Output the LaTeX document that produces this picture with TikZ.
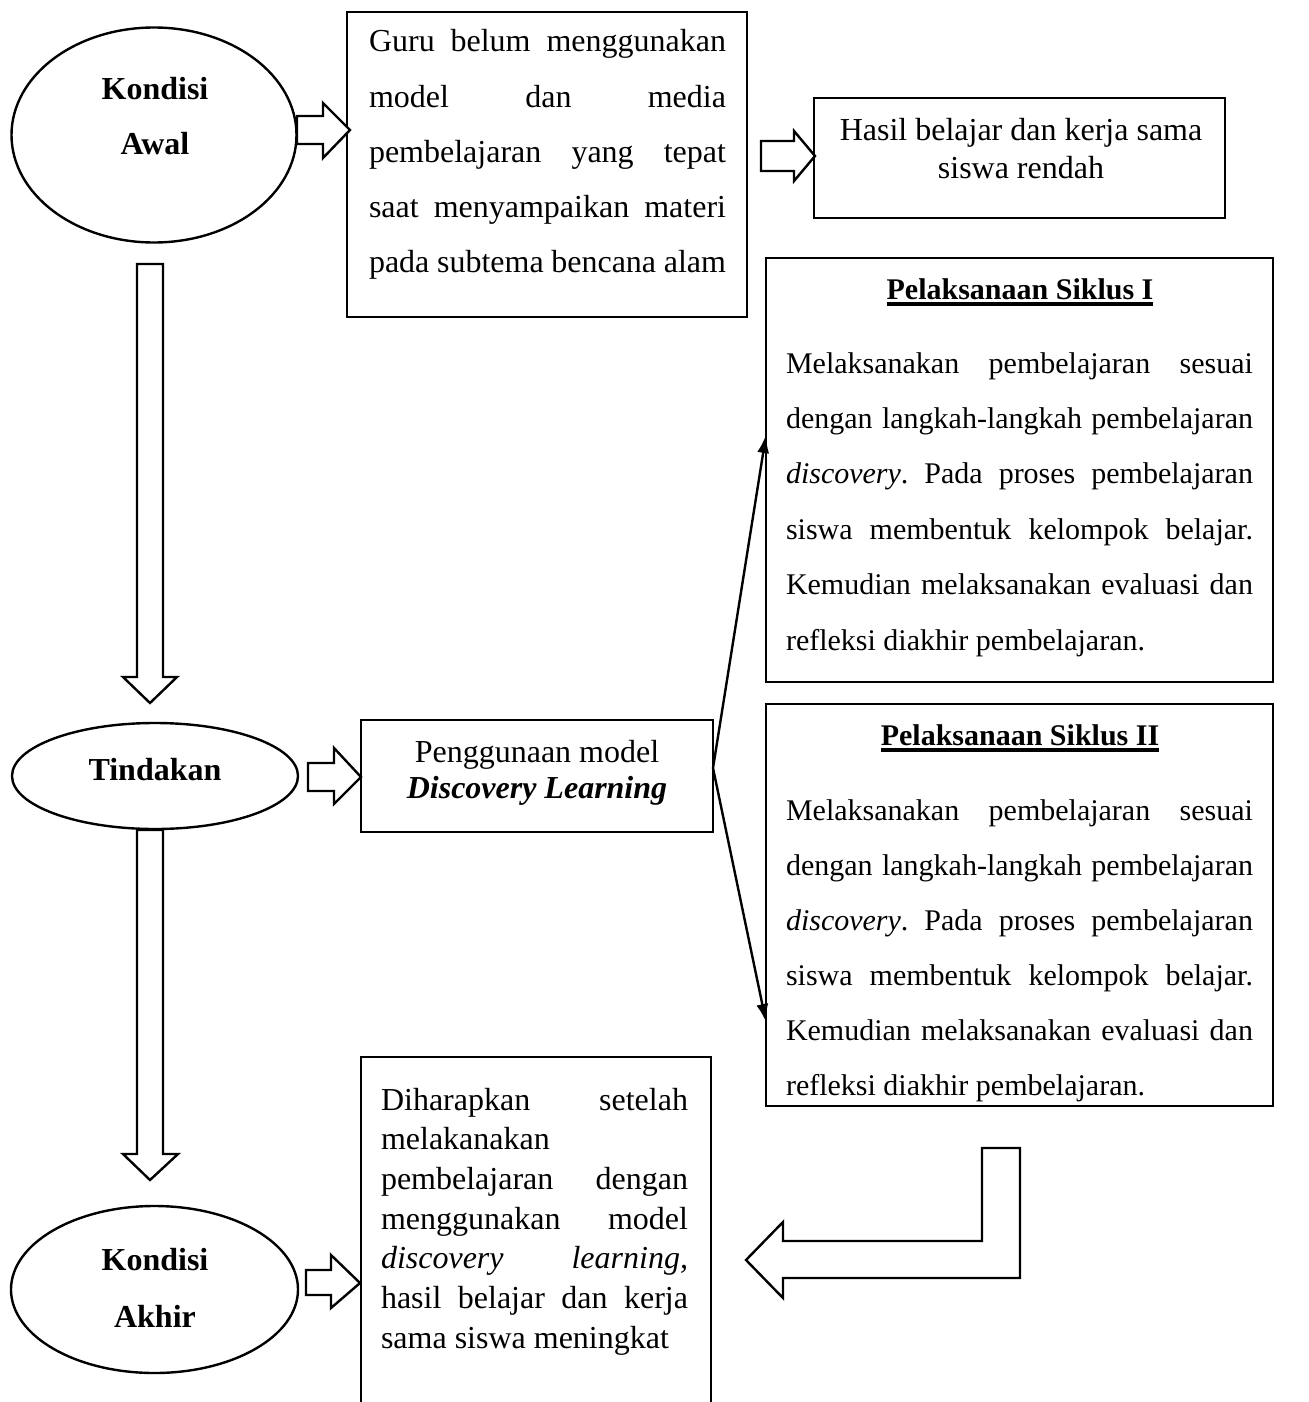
\documentclass[tikz,border=0pt]{standalone}
\usepackage{fontspec}
\setmainfont{Liberation Serif}
\usetikzlibrary{shapes.geometric,arrows.meta}
\newcommand{\tstrut}{\rule{0pt}{13pt}}
\newcommand{\myul}[1]{\setbox0\hbox{#1}\rlap{\rule[-3.3pt]{\wd0}{1.6pt}}\box0}
\frenchspacing
\begin{document}
\begin{tikzpicture}[x=0.5pt,y=-0.5pt,
  box/.style={draw,line width=1.2pt,rectangle,inner sep=0pt,outer sep=0pt},
  oval/.style={draw,line width=1.2pt,ellipse,inner sep=0pt,outer sep=0pt},
  blk/.style={draw,line width=1.2pt,fill=white,line join=miter},
  conn/.style={line width=1.2pt,-{Latex[length=9pt,width=6pt]}},
  txt/.style={inner sep=0pt,outer sep=0pt},
  para/.style={txt,anchor=north west,align=justify}
]
\useasboundingbox (0,0) rectangle (1308,1402);
\clip (0,0) rectangle (1308,1402);
\hyphenpenalty=10000 \exhyphenpenalty=10000

% ellipses
\node[oval,minimum width=142.5pt,minimum height=107.5pt] (e1) at (154,135) {};
\node[oval,minimum width=143pt,minimum height=53pt] (e2) at (155,776) {};
\node[oval,minimum width=143.5pt,minimum height=83.5pt] (e3) at (154.5,1289.5) {};
\node[txt,anchor=north,align=center,font=\fontsize{16pt}{27.5pt}\selectfont\bfseries] (te1) at (155,74) {\tstrut Kondisi\\Awal};
\node[txt,anchor=north,align=center,font=\fontsize{16pt}{19pt}\selectfont\bfseries] (te2) at (155,754) {\tstrut Tindakan};
\node[txt,anchor=north,align=center,font=\fontsize{16pt}{28.5pt}\selectfont\bfseries] (te3) at (155,1244) {\tstrut Kondisi\\Akhir};

% boxes
\node[box,minimum width=200pt,minimum height=152.5pt] (b1) at (547,164.5) {};
\node[box,minimum width=205.5pt,minimum height=60pt] (b2) at (1019.5,158) {};
\node[box,minimum width=253.5pt,minimum height=212pt] (s1) at (1019.5,470) {};
\node[box,minimum width=253.5pt,minimum height=201pt] (s2) at (1019.5,905) {};
\node[box,minimum width=176pt,minimum height=56pt] (pg) at (537,776) {};
\node[box,minimum width=175pt,minimum height=181.5pt] (dh) at (536,1238.5) {};

% box texts
\node[para,text width=178.5pt,font=\fontsize{16pt}{27.6pt}\selectfont] (tb1) at (369,26)
 {\tstrut Guru belum menggunakan\linebreak model dan media\linebreak pembelajaran yang tepat\linebreak saat menyampaikan materi\linebreak pada subtema bencana alam};
\node[txt,anchor=north,align=center,font=\fontsize{16pt}{19pt}\selectfont] (tb2) at (1021,114)
 {\tstrut Hasil belajar dan kerja sama\\siswa rendah};
\node[txt,anchor=north,font=\fontsize{15pt}{18pt}\selectfont\bfseries] (ts1h) at (1020,273)
 {\tstrut\myul{Pelaksanaan Siklus I}};
\node[para,text width=233.5pt,font=\fontsize{15pt}{27.7pt}\selectfont] (ts1) at (786,347)
 {\tstrut Melaksanakan pembelajaran sesuai\linebreak dengan langkah-langkah pembelajaran\linebreak \textit{discovery}. Pada proses pembelajaran\linebreak siswa membentuk kelompok belajar.\linebreak Kemudian melaksanakan evaluasi dan\linebreak refleksi diakhir pembelajaran.};
\node[txt,anchor=north,font=\fontsize{15pt}{18pt}\selectfont\bfseries] (ts2h) at (1020,719)
 {\tstrut\myul{Pelaksanaan Siklus II}};
\node[para,text width=233.5pt,font=\fontsize{15pt}{27.5pt}\selectfont] (ts2) at (786,794)
 {\tstrut Melaksanakan pembelajaran sesuai\linebreak dengan langkah-langkah pembelajaran\linebreak \textit{discovery}. Pada proses pembelajaran\linebreak siswa membentuk kelompok belajar.\linebreak Kemudian melaksanakan evaluasi dan\linebreak refleksi diakhir pembelajaran.};
\node[txt,anchor=north,align=center,font=\fontsize{16pt}{18pt}\selectfont] (tpg) at (537,736)
 {\tstrut Penggunaan model\\\textbf{\textit{Discovery Learning}}};
\node[para,text width=153.5pt,font=\fontsize{16pt}{19.85pt}\selectfont] (tdh) at (381,1084)
 {\tstrut Diharapkan setelah\linebreak melakanakan\newline pembelajaran dengan\linebreak menggunakan model\linebreak \textit{discovery learning,}\linebreak hasil belajar dan kerja\linebreak sama siswa meningkat};

% block arrows
\draw[blk] (297,116) -- (323,116) -- (323,103) -- (350,130) -- (323,158) -- (323,144) -- (297,144) -- cycle;
\draw[blk] (761,141) -- (794,141) -- (794,131) -- (815,156) -- (794,181) -- (794,171) -- (761,171) -- cycle;
\draw[blk] (308,763) -- (334,763) -- (334,748) -- (361,777) -- (334,804) -- (334,791) -- (308,791) -- cycle;
\draw[blk] (306,1270) -- (331,1270) -- (331,1255) -- (360,1283) -- (331,1308) -- (331,1295) -- (306,1295) -- cycle;
\draw[blk] (137,264) -- (163,264) -- (163,677) -- (177,677) -- (150,703) -- (123,677) -- (137,677) -- cycle;
\draw[blk] (137,830) -- (163,830) -- (163,1154) -- (178,1154) -- (150,1180) -- (123,1154) -- (137,1154) -- cycle;
\draw[blk] (982,1148) -- (1020,1148) -- (1020,1278) -- (783,1278) -- (783,1298) -- (746,1260) -- (783,1222) -- (783,1241) -- (982,1241) -- cycle;

% thin connectors
\draw[conn] ([yshift=4pt]pg.east) -- ([yshift=17.5pt]s1.west);
\draw[conn] ([yshift=4pt]pg.east) -- ([yshift=-58.5pt]s2.west);
\end{tikzpicture}
\end{document}
